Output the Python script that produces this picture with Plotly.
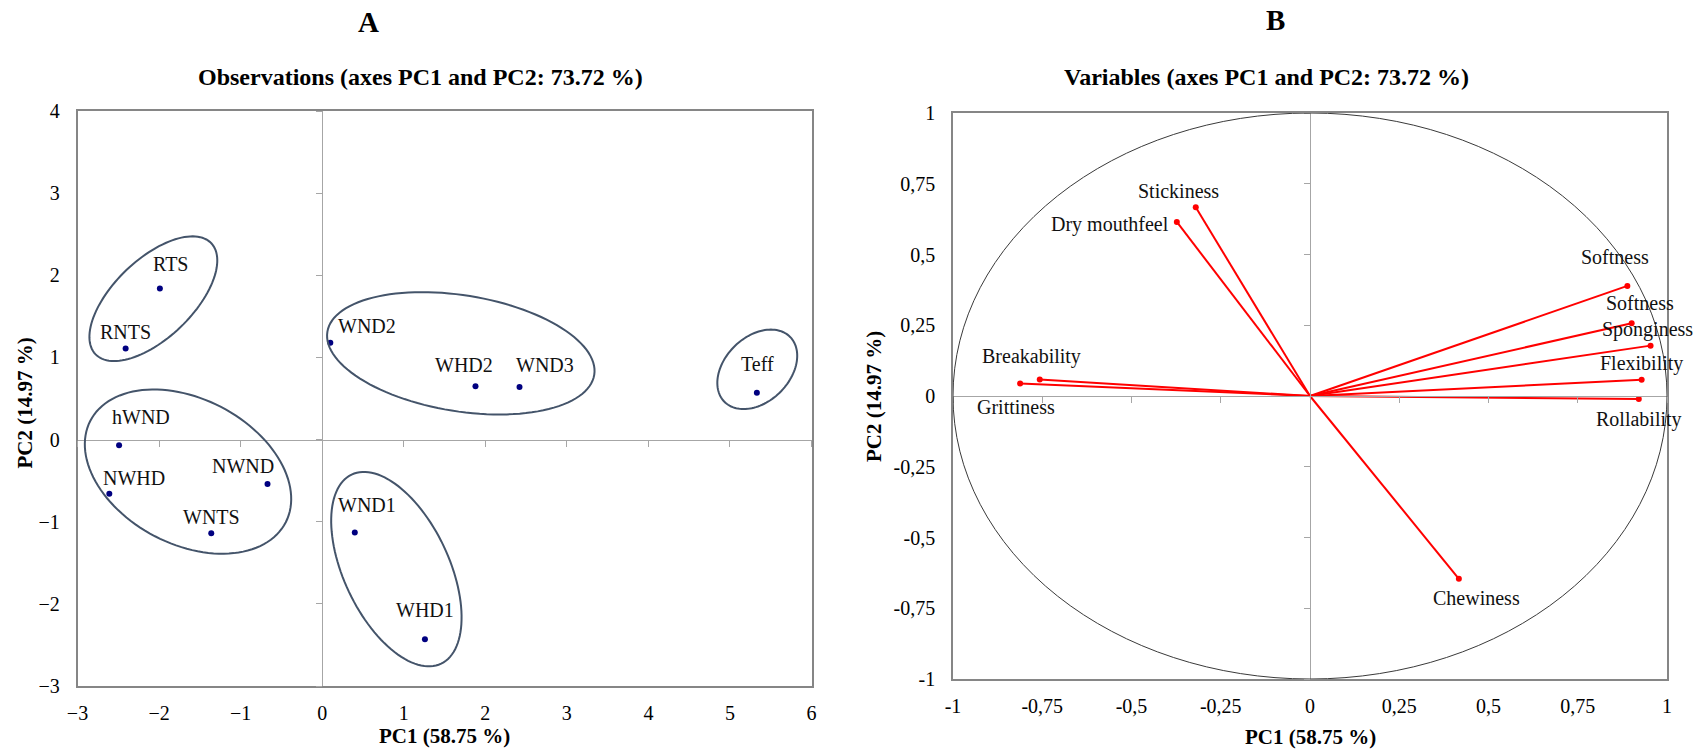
import numpy as np
import plotly.graph_objects as go

W, H = 1699, 751
FONT = "Liberation Serif"

# ---------------- data: observations (panel A) ----------------
obs_names = ["RTS", "RNTS", "hWND", "NWHD", "NWND", "WNTS",
             "WND2", "WHD2", "WND3", "Teff", "WND1", "WHD1"]
obs_pc1 = [-1.99, -2.41, -2.49, -2.61, -0.67, -1.36,
           0.10, 1.88, 2.42, 5.33, 0.40, 1.26]
obs_pc2 = [1.84, 1.11, -0.07, -0.66, -0.54, -1.14,
           1.18, 0.65, 0.64, 0.57, -1.13, -2.43]

# group ellipses: centre, semi-axes, rotation (deg), in PC units
ell_cx = [-2.07, 1.70, 5.335, -1.645, 0.91]
ell_cy = [1.715, 1.05, 0.855, -0.39, -1.577]
ell_a = [0.98, 1.657, 0.564, 1.348, 1.275]
ell_b = [0.48, 0.706, 0.395, 0.885, 0.644]
ell_ang = [43.5, -9.1, 44.0, -27.2, -64.5]

# ---------------- data: variables (panel B) ----------------
var_names = ["Stickiness", "Dry mouthfeel", "Softness", "Softness", "Sponginess",
             "Flexibility", "Rollability", "Breakability", "Grittiness", "Chewiness"]
var_pc1 = [-0.32, -0.373, 0.889, 0.901, 0.954, 0.929, 0.921, -0.757, -0.812, 0.417]
var_pc2 = [0.667, 0.615, 0.389, 0.257, 0.178, 0.057, -0.011, 0.058, 0.044, -0.646]

# axis ticks
a_xticks = [-3, -2, -1, 0, 1, 2, 3, 4, 5, 6]
a_yticks = [-3, -2, -1, 0, 1, 2, 3, 4]
b_ticks = [-1, -0.75, -0.5, -0.25, 0, 0.25, 0.5, 0.75, 1]
b_ticktext = ["-1", "-0,75", "-0,5", "-0,25", "0", "0,25", "0,5", "0,75", "1"]

# ---------------- style: label offsets (px) ----------------
obs_off = {"RTS": (11, 24), "RNTS": (0, 16), "hWND": (22, 28), "NWHD": (25, 16),
           "NWND": (-25, 18), "WNTS": (0, 16), "WND2": (37, 17), "WHD2": (-11, 21),
           "WND3": (25, 22), "Teff": (1, 29), "WND1": (12, 27), "WHD1": (0, 29)}
var_off = [(-17, 16, "center"), (-6, -3, "right"), (-12, 29, "center"), (8, 20, "center"),
           (-3, 16, "center"), (0, 16, "center"), (0, -20, "center"), (-8, 23, "center"),
           (-4, -23, "center"), (18, -19, "center")]

# ---------------- layout geometry (px) ----------------
A_x0, A_x1, A_y0, A_y1 = 77.5, 811.5, 111, 686
B_x0, B_x1, B_y0, B_y1 = 953, 1667, 113, 679
ax_dom = [A_x0 / W, A_x1 / W]
ay_dom = [1 - A_y1 / H, 1 - A_y0 / H]
bx_dom = [B_x0 / W, B_x1 / W]
by_dom = [1 - B_y1 / H, 1 - B_y0 / H]

a_xr = [a_xticks[0], a_xticks[-1]]
a_yr = [a_yticks[0], a_yticks[-1]]
b_r = [b_ticks[0], b_ticks[-1]]


def frac(v, r, dom):
    return dom[0] + (v - r[0]) / (r[1] - r[0]) * (dom[1] - dom[0])


FRAME = "#868686"
ZERO = "#a6a6a6"

fig = go.Figure()

# observations
fig.add_trace(go.Scatter(x=obs_pc1, y=obs_pc2, mode="markers", xaxis="x", yaxis="y",
                         marker=dict(color="#000080", size=6), hoverinfo="skip",
                         showlegend=False))

# variable vectors
lx, ly = [], []
for px, py in zip(var_pc1, var_pc2):
    lx += [0, px, None]
    ly += [0, py, None]
fig.add_trace(go.Scatter(x=lx, y=ly, mode="lines", xaxis="x2", yaxis="y2",
                         line=dict(color="#ff0000", width=2), hoverinfo="skip",
                         showlegend=False))
fig.add_trace(go.Scatter(x=var_pc1, y=var_pc2, mode="markers", xaxis="x2", yaxis="y2",
                         marker=dict(color="#ff0000", size=6), hoverinfo="skip",
                         showlegend=False))

# dummy traces to host the crossing axes
for xa, ya in [("x3", "y"), ("x", "y3"), ("x4", "y2"), ("x2", "y4")]:
    fig.add_trace(go.Scatter(x=[None], y=[None], xaxis=xa, yaxis=ya, mode="markers",
                             showlegend=False, hoverinfo="skip"))

tickfont = dict(family=FONT, size=20, color="#000000")
main_common = dict(showgrid=False, zeroline=False, showline=True, mirror=True,
                   linecolor=FRAME, linewidth=1.5, ticks="", tickfont=tickfont,
                   fixedrange=True, automargin=False)
cross_common = dict(showgrid=False, zeroline=False, showline=True, linecolor=ZERO,
                    linewidth=1, ticks="outside", ticklen=6, tickcolor=ZERO,
                    tickwidth=1, showticklabels=False, anchor="free", fixedrange=True,
                    automargin=False)

fig.update_layout(
    template="none",
    width=W, height=H, margin=dict(l=0, r=0, t=0, b=0, autoexpand=False),
    paper_bgcolor="white", plot_bgcolor="white", showlegend=False,
    font=dict(family=FONT),
    xaxis=dict(domain=ax_dom, range=a_xr, anchor="y", tickvals=a_xticks,
               ticklabelstandoff=8, **main_common),
    yaxis=dict(domain=ay_dom, range=a_yr, anchor="x", tickvals=a_yticks,
               ticklabelstandoff=12, **main_common),
    xaxis2=dict(domain=bx_dom, range=b_r, anchor="y2", tickvals=b_ticks,
                ticktext=b_ticktext, ticklabelstandoff=8, **main_common),
    yaxis2=dict(domain=by_dom, range=b_r, anchor="x2", tickvals=b_ticks,
                ticktext=b_ticktext, ticklabelstandoff=12, **main_common),
    xaxis3=dict(domain=ax_dom, range=a_xr, overlaying="x", side="bottom",
                position=frac(0, a_yr, ay_dom), tickvals=a_xticks, **cross_common),
    yaxis3=dict(domain=ay_dom, range=a_yr, overlaying="y", side="left",
                position=frac(0, a_xr, ax_dom), tickvals=a_yticks, **cross_common),
    xaxis4=dict(domain=bx_dom, range=b_r, overlaying="x2", side="bottom",
                position=frac(0, b_r, by_dom), tickvals=b_ticks, **cross_common),
    yaxis4=dict(domain=by_dom, range=b_r, overlaying="y2", side="left",
                position=frac(0, b_r, bx_dom), tickvals=b_ticks, **cross_common),
)

# ellipses around groups
t = np.linspace(0, 2 * np.pi, 121)
for cx, cy, a, b, ang in zip(ell_cx, ell_cy, ell_a, ell_b, ell_ang):
    th = np.deg2rad(ang)
    ex = cx + a * np.cos(t) * np.cos(th) - b * np.sin(t) * np.sin(th)
    ey = cy + a * np.cos(t) * np.sin(th) + b * np.sin(t) * np.cos(th)
    path = "M " + " L ".join(f"{x:.4f},{y:.4f}" for x, y in zip(ex, ey)) + " Z"
    fig.add_shape(type="path", path=path, xref="x", yref="y",
                  line=dict(color="#44546a", width=2))

# correlation circle
fig.add_shape(type="circle", xref="x2", yref="y2", x0=-1, x1=1, y0=-1, y1=1,
              line=dict(color="#3a3a3a", width=1))

labfont = dict(family=FONT, size=20, color="#111111")
for n, x, y in zip(obs_names, obs_pc1, obs_pc2):
    dx, dy = obs_off[n]
    fig.add_annotation(x=x, y=y, xref="x", yref="y", text=n, showarrow=False,
                       xshift=dx, yshift=dy, font=labfont,
                       xanchor="center", yanchor="middle")
for n, x, y, (dx, dy, anc) in zip(var_names, var_pc1, var_pc2, var_off):
    fig.add_annotation(x=x, y=y, xref="x2", yref="y2", text=n, showarrow=False,
                       xshift=dx, yshift=dy, font=labfont,
                       xanchor=anc, yanchor="middle")

# titles and axis titles
def pann(text, xpx, ypx, size, bold=True, angle=0):
    fig.add_annotation(x=xpx / W, y=1 - ypx / H, xref="paper", yref="paper",
                       text=f"<b>{text}</b>" if bold else text, showarrow=False,
                       textangle=angle, xanchor="center", yanchor="middle",
                       font=dict(family=FONT, size=size, color="#000000"))

pann("A", 368, 22, 29)
pann("B", 1275, 20, 29)
pann("Observations (axes PC1 and PC2: 73.72 %)", 420, 77, 24)
pann("Variables (axes PC1 and PC2: 73.72 %)", 1266, 77, 24)
pann("PC1 (58.75 %)", (A_x0 + A_x1) / 2, 736, 21)
pann("PC1 (58.75 %)", (B_x0 + B_x1) / 2, 737, 21)
pann("PC2 (14.97 %)", 24, (A_y0 + A_y1) / 2 + 5, 21, angle=-90)
pann("PC2 (14.97 %)", 874, (B_y0 + B_y1) / 2, 21, angle=-90)

fig.write_html("out.html")
